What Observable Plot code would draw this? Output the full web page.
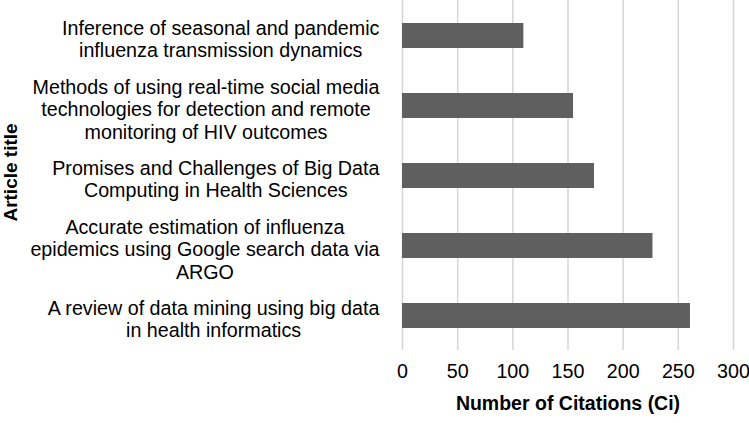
<!DOCTYPE html>
<html>
<head>
<meta charset="utf-8">
<script src="https://cdn.jsdelivr.net/npm/d3@7"></script>
<script src="https://cdn.jsdelivr.net/npm/@observablehq/plot@0.6"></script>
<style>
  html, body { margin: 0; padding: 0; background: #fff; }
  #chart svg { display: block; }
</style>
</head>
<body>
<div id="chart"></div>
<script>
const titles = [
  "Inference of seasonal and pandemic\ninfluenza transmission dynamics",
  "Methods of using real-time social media\ntechnologies for detection and remote\nmonitoring of HIV outcomes",
  "Promises and Challenges of Big Data\nComputing in Health Sciences",
  "Accurate estimation of influenza\nepidemics using Google search data via\nARGO",
  "A review of data mining using big data\nin health informatics"
];
const citations = [110, 155, 174, 227, 261];
const xTicks = [0, 50, 100, 150, 200, 250, 300];
const xTitle = "Number of Citations (Ci)";
const yTitle = "Article title";

const data = titles.map((t, i) => ({title: t, ci: citations[i]}));

const chart = Plot.plot({
  width: 749,
  height: 423,
  marginTop: 0,
  marginBottom: 73,
  marginLeft: 402,
  marginRight: 16,
  style: {fontFamily: "'Liberation Sans', Arial, sans-serif", fontSize: "19.7px", color: "#000", background: "#fff"},
  x: {domain: [0, 300]},
  y: {domain: titles, paddingInner: 0.65, paddingOuter: 0.325},
  marks: [
    Plot.gridX(xTicks, {stroke: "#d6d6d6", strokeOpacity: 1, strokeWidth: 1.5}),
    Plot.barX(data, {x: "ci", y: "title", fill: "#5f5f5f"}),
    Plot.axisX(xTicks, {tickSize: 0, tickPadding: 13, label: null, fontSize: 19.7, fill: "#000"}),
    Plot.axisY({tickSize: 0, tickPadding: 23, dy: 3, label: null, fontSize: 19.7, lineHeight: 1.145, fill: "#000"}),
    Plot.text([xTitle], {text: d => d, frameAnchor: "bottom", dy: 53.5, lineAnchor: "middle", textAnchor: "middle", fontWeight: "bold", fontSize: 19.5, fill: "#000"}),
    Plot.text([yTitle], {text: d => d, frameAnchor: "left", dx: -392, dy: -3, rotate: -90, lineAnchor: "middle", textAnchor: "middle", fontWeight: "bold", fontSize: 19, fill: "#000"})
  ]
});

document.getElementById("chart").appendChild(chart);

// Center each line of the multi-line y tick labels within its block (right edge kept at the anchor)
chart.querySelectorAll('g[aria-label="y-axis tick label"] text').forEach(t => {
  const w = t.getBBox().width;
  t.setAttribute("text-anchor", "middle");
  t.setAttribute("x", -w / 2);
  t.querySelectorAll("tspan").forEach(s => s.setAttribute("x", -w / 2));
});
</script>
</body>
</html>
